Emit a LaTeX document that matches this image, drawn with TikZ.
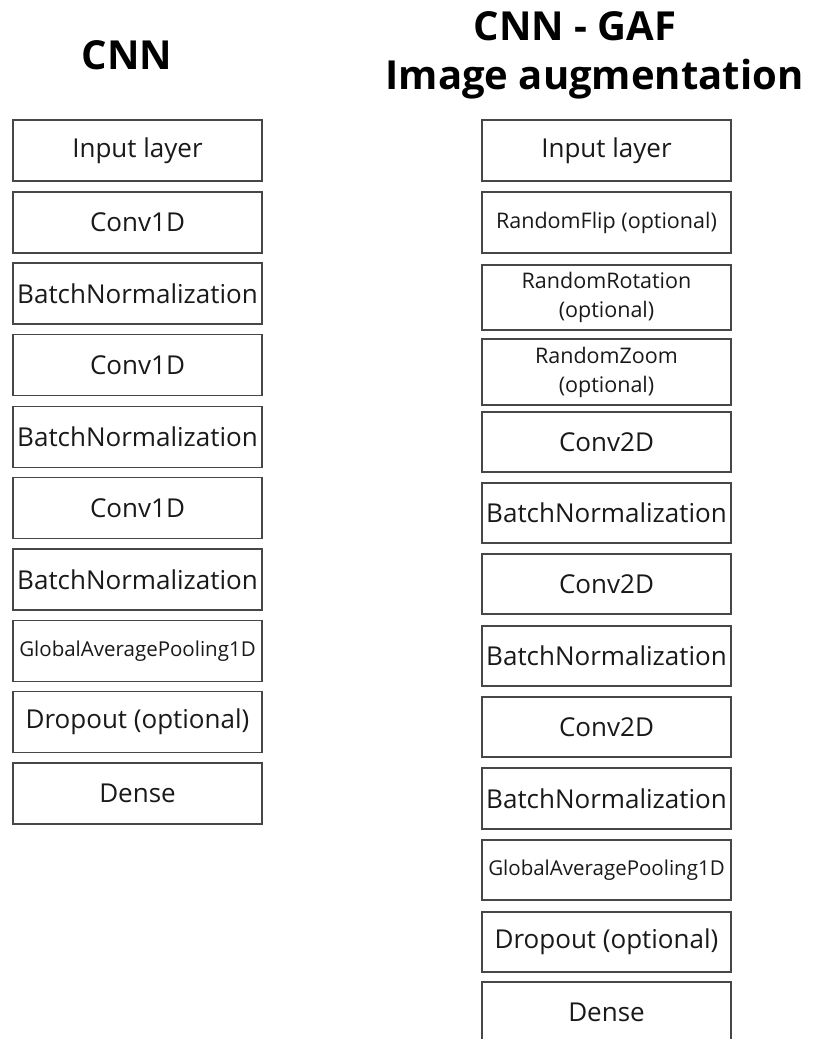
\documentclass[tikz,border=0pt]{standalone}
\usepackage{fontspec}
\setmainfont{Open Sans}
\begin{document}
\begin{tikzpicture}[x=1pt,y=-1pt,
  layer/.style={draw=black!72, line width=1.1pt, minimum width=249pt,
    minimum height=61pt, inner sep=0pt, align=center, text=black!90,
    font=\fontsize{26}{30}\selectfont},
  smalltxt/.style={font=\fontsize{21.5}{26}\selectfont},
  tinytxt/.style={font=\fontsize{20.5}{24}\selectfont},
  twoline/.style={font=\fontsize{21.5}{29}\selectfont, minimum height=66pt},
  title/.style={font=\bfseries\fontsize{40}{48}\selectfont, text=black,
    inner sep=0pt, anchor=base}]
\useasboundingbox (0,0) rectangle (813,1039);

% column titles
\node[title] (tl) at (127,69) {CNN};
\node[title] (tr1) at (575,40) {CNN - GAF};
\node[title] (tr2) at (594.5,89) {Image augmentation};

% plain CNN stack
\node[layer] (a1) at (137.5,150.5) {Input layer};
\node[layer] (a2) at (137.5,222.5) {Conv1D};
\node[layer] (a3) at (137.5,293.5) {BatchNormalization};
\node[layer] (a4) at (137.5,365) {Conv1D};
\node[layer] (a5) at (137.5,437) {BatchNormalization};
\node[layer] (a6) at (137.5,508) {Conv1D};
\node[layer] (a7) at (137.5,579.5) {BatchNormalization};
\node[layer, tinytxt] (a8) at (137.5,651) {GlobalAveragePooling1D};
\node[layer] (a9) at (137.5,722) {Dropout (optional)};
\node[layer] (a10) at (137.5,793.5) {Dense};

% CNN on GAF images with augmentation
\node[layer] (b1) at (606.5,150.5) {Input layer};
\node[layer, smalltxt] (b2) at (606.5,222.5) {RandomFlip (optional)};
\node[layer, twoline, minimum height=65pt] (b3) at (606.5,297.5) {RandomRotation\\(optional)};
\node[layer, twoline] (b4) at (606.5,372) {RandomZoom\\(optional)};
\node[layer, minimum height=60pt] (b5) at (606.5,442) {Conv2D};
\node[layer, minimum height=60pt] (b6) at (606.5,513) {BatchNormalization};
\node[layer, minimum height=60pt] (b7) at (606.5,584) {Conv2D};
\node[layer, minimum height=60pt] (b8) at (606.5,656) {BatchNormalization};
\node[layer, minimum height=60pt] (b9) at (606.5,727) {Conv2D};
\node[layer] (b10) at (606.5,798.5) {BatchNormalization};
\node[layer, tinytxt, minimum height=60pt] (b11) at (606.5,870) {GlobalAveragePooling1D};
\node[layer, minimum height=60pt] (b12) at (606.5,942) {Dropout (optional)};
\node[layer] (b13) at (606.5,1012.5) {Dense};
\end{tikzpicture}
\end{document}
